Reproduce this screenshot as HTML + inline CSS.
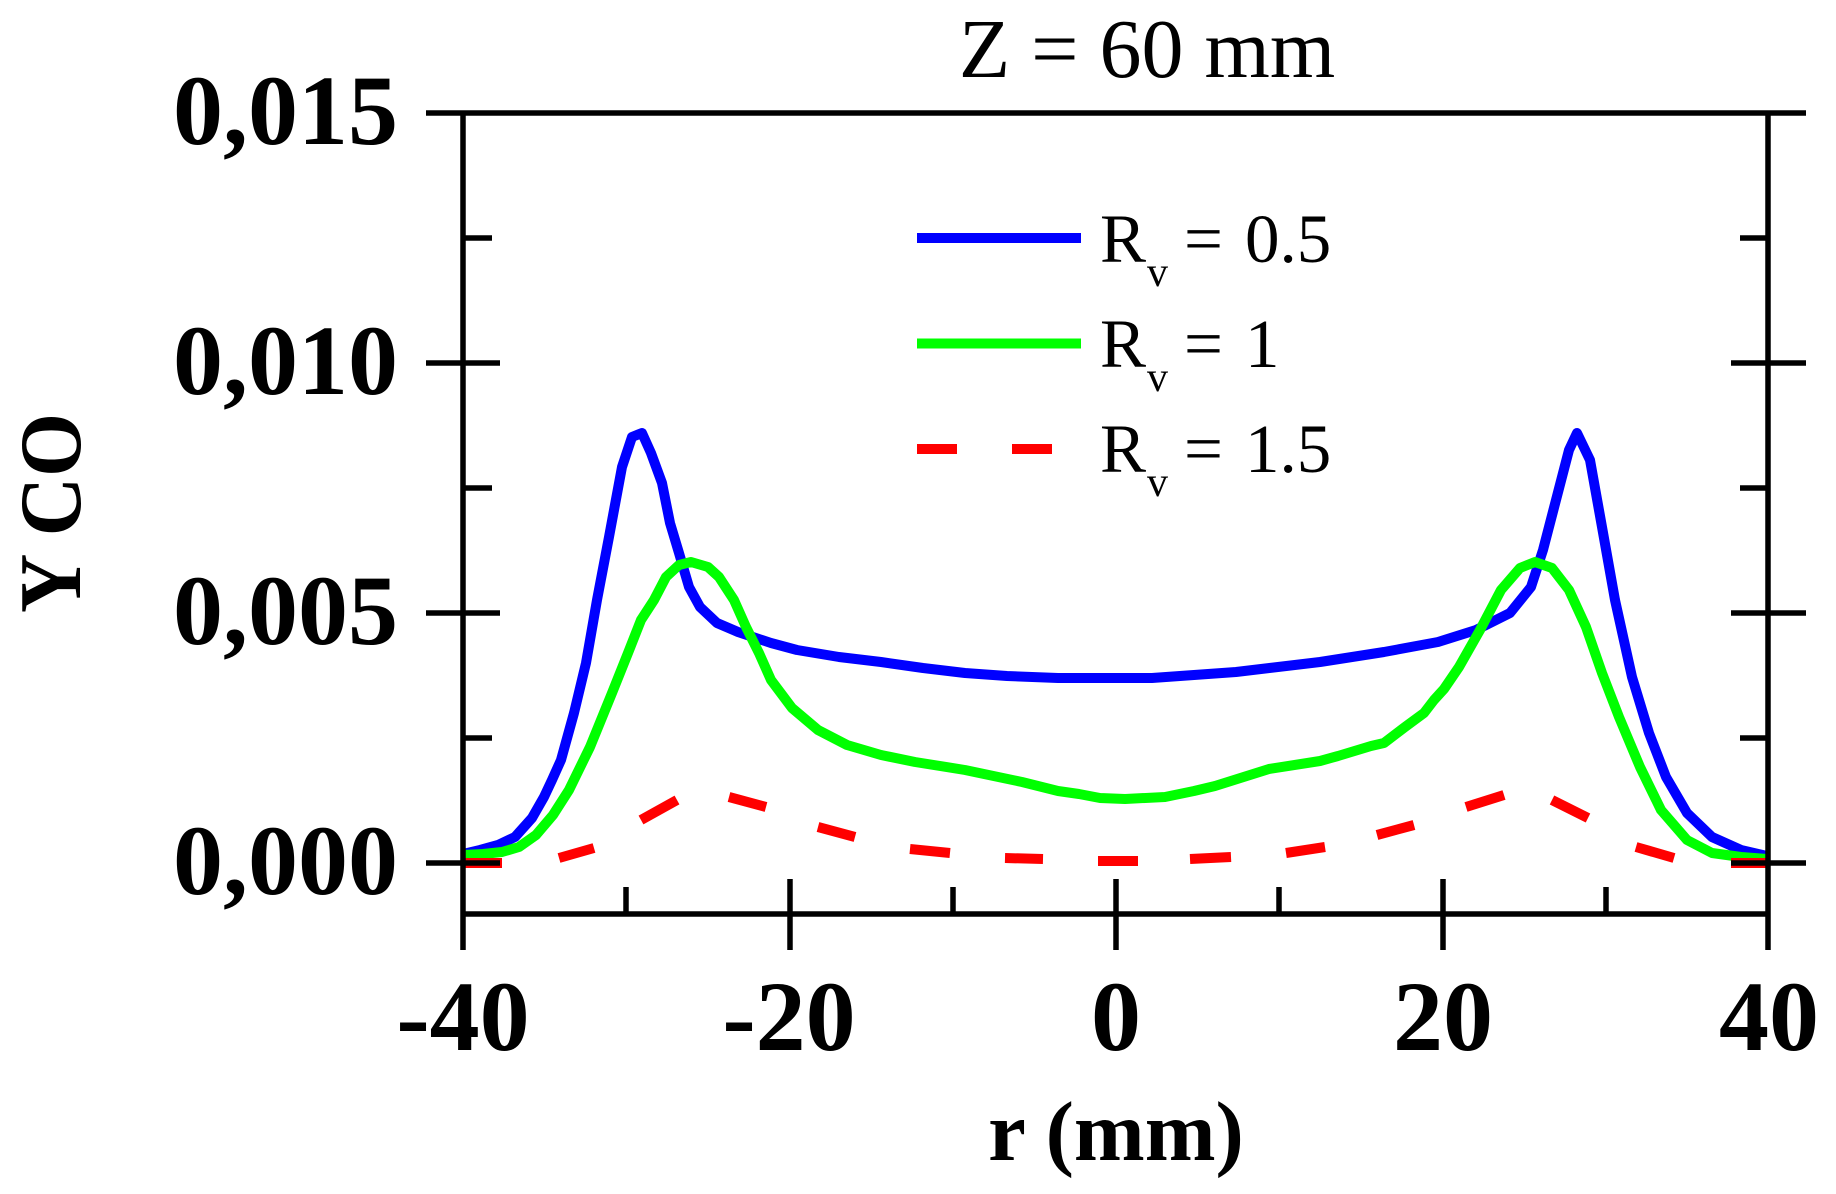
<!DOCTYPE html>
<html>
<head>
<meta charset="utf-8">
<style>
html,body{margin:0;padding:0;background:#fff;}
svg{display:block;}
text{font-family:"Liberation Serif","Times New Roman",serif;fill:#000;}
.b{font-weight:bold;}
</style>
</head>
<body>
<svg width="1836" height="1194" viewBox="0 0 1836 1194" xmlns="http://www.w3.org/2000/svg">
<rect width="1836" height="1194" fill="#fff"/>

<!-- Title -->
<text x="1147" y="77" font-size="84" text-anchor="middle">Z = 60 mm</text>

<!-- Curves -->
<polyline fill="none" stroke="#0000ff" stroke-width="10" stroke-linejoin="round" points="
463,854 480,850 498,845 515,837 532,818 544,797 552,780 561,760 574,713 586,663 597,600 609,537 622,467 632,437 642,433 651,453 662,483 670,523 679,553 689,587 700,607 717,623 738,632 771,643 797,650 839,657 881,662 923,668 965,673 1007,676 1058,678 1115,678 1152,678 1236,672 1320,662 1384,652 1438,642 1476,630 1510,613 1531,587 1543,550 1556,500 1569,450 1577,433 1590,460 1602,527 1615,600 1632,677 1649,733 1666,777 1687,813 1712,837 1741,850 1767,856"/>

<polyline fill="none" stroke="#00ff00" stroke-width="10" stroke-linejoin="round" points="
463,855 483,854 502,852 519,847 536,835 553,815 569,790 590,747 612,693 628,653 641,620 654,600 666,577 679,565 691,562 708,567 719,577 734,600 746,627 759,653 771,680 792,708 818,730 847,745 881,755 915,762 965,770 1022,782 1058,791 1079,794 1100,798 1125,799 1165,797 1194,791 1215,786 1269,769 1320,761 1338,756 1371,746 1384,743 1405,727 1424,713 1434,700 1444,689 1459,667 1480,630 1501,590 1520,568 1535,562 1552,568 1569,590 1586,627 1602,673 1619,717 1640,767 1661,810 1687,840 1712,853 1741,857 1767,859"/>

<!-- Red dashed curve drawn as individual dashes -->
<g stroke="#ff0000" stroke-width="10" stroke-linecap="butt" fill="none">
<line x1="463" y1="863" x2="502" y2="863"/>
<line x1="559" y1="858" x2="594" y2="848"/>
<line x1="641" y1="820" x2="677" y2="800"/>
<line x1="729" y1="797" x2="766" y2="807"/>
<line x1="818" y1="827" x2="855" y2="837"/>
<line x1="910" y1="849" x2="950" y2="853"/>
<line x1="1005" y1="858" x2="1043" y2="859"/>
<line x1="1098" y1="861" x2="1138" y2="861"/>
<line x1="1190" y1="859" x2="1231" y2="857"/>
<line x1="1286" y1="853" x2="1325" y2="847"/>
<line x1="1377" y1="835" x2="1414" y2="825"/>
<line x1="1466" y1="807" x2="1504" y2="795"/>
<line x1="1552" y1="800" x2="1588" y2="818"/>
<line x1="1636" y1="847" x2="1674" y2="858"/>
<line x1="1731" y1="863" x2="1770" y2="863"/>
</g>

<!-- Axes -->
<g stroke="#000" stroke-width="5.5" stroke-linecap="butt" fill="none">
<line x1="426" y1="113" x2="1806" y2="113"/>
<line x1="463" y1="113" x2="463" y2="950"/>
<line x1="1768" y1="113" x2="1768" y2="950"/>
<line x1="463" y1="914" x2="1768" y2="914"/>
<!-- left major -->
<line x1="426" y1="363" x2="500" y2="363"/>
<line x1="426" y1="613" x2="500" y2="613"/>
<line x1="426" y1="863" x2="500" y2="863"/>
<!-- left minor -->
<line x1="463" y1="238" x2="492" y2="238"/>
<line x1="463" y1="488" x2="492" y2="488"/>
<line x1="463" y1="738" x2="492" y2="738"/>
<!-- right major -->
<line x1="1731" y1="363" x2="1806" y2="363"/>
<line x1="1731" y1="613" x2="1806" y2="613"/>
<line x1="1731" y1="863" x2="1806" y2="863"/>
<!-- right minor -->
<line x1="1740" y1="238" x2="1768" y2="238"/>
<line x1="1740" y1="488" x2="1768" y2="488"/>
<line x1="1740" y1="738" x2="1768" y2="738"/>
<!-- bottom major -->
<line x1="790" y1="879" x2="790" y2="950"/>
<line x1="1116" y1="879" x2="1116" y2="950"/>
<line x1="1443" y1="879" x2="1443" y2="950"/>
<!-- bottom minor -->
<line x1="626" y1="887" x2="626" y2="914"/>
<line x1="953" y1="887" x2="953" y2="914"/>
<line x1="1279" y1="887" x2="1279" y2="914"/>
<line x1="1606" y1="887" x2="1606" y2="914"/>
</g>

<!-- Y tick labels -->
<g class="b" font-size="100" text-anchor="end">
<text x="398" y="144" class="b">0,015</text>
<text x="398" y="394" class="b">0,010</text>
<text x="398" y="644" class="b">0,005</text>
<text x="398" y="894" class="b">0,000</text>
</g>

<!-- X tick labels -->
<g font-size="100" text-anchor="middle">
<text x="463" y="1050" class="b">-40</text>
<text x="789" y="1050" class="b">-20</text>
<text x="1116" y="1050" class="b">0</text>
<text x="1443" y="1050" class="b">20</text>
<text x="1769" y="1050" class="b">40</text>
</g>

<!-- Axis labels -->
<text x="1116" y="1160" font-size="85" text-anchor="middle" class="b">r (mm)</text>
<text transform="translate(80,513) rotate(-90)" font-size="88" text-anchor="middle" class="b" textLength="200" lengthAdjust="spacingAndGlyphs">Y CO</text>

<!-- Legend -->
<line x1="917" y1="238" x2="1081" y2="238" stroke="#0000ff" stroke-width="10"/>
<line x1="917" y1="343.5" x2="1081" y2="343.5" stroke="#00ff00" stroke-width="10"/>
<line x1="917" y1="449" x2="957" y2="449" stroke="#ff0000" stroke-width="10"/>
<line x1="1012" y1="449" x2="1052" y2="449" stroke="#ff0000" stroke-width="10"/>

<text x="1100" y="262" font-size="69">R</text>
<text x="1147" y="286" font-size="42">v</text>
<text x="1184" y="262" font-size="69">=</text>
<text x="1245" y="262" font-size="69">0.5</text>

<text x="1100" y="367" font-size="69">R</text>
<text x="1147" y="391" font-size="42">v</text>
<text x="1184" y="367" font-size="69">=</text>
<text x="1245" y="367" font-size="69">1</text>

<text x="1100" y="472" font-size="69">R</text>
<text x="1147" y="496" font-size="42">v</text>
<text x="1184" y="472" font-size="69">=</text>
<text x="1245" y="472" font-size="69">1.5</text>
</svg>
</body>
</html>
